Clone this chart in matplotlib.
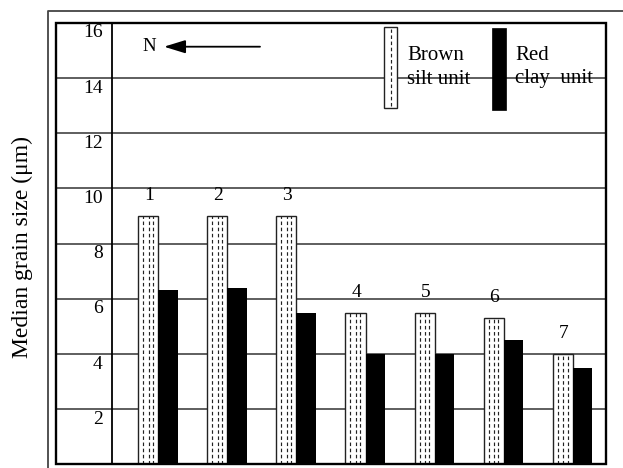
import matplotlib
matplotlib.use("Agg")
import matplotlib.pyplot as plt
import matplotlib.transforms as mtransforms
from matplotlib.lines import Line2D
from matplotlib.patches import Rectangle
import numpy as np

# ---- data ----
sites = ["1", "2", "3", "4", "5", "6", "7"]
brown_silt = [9.0, 9.0, 9.0, 5.5, 5.5, 5.3, 4.0]
red_clay = [6.3, 6.4, 5.5, 4.0, 4.0, 4.5, 3.5]
y_ticks = [2, 4, 6, 8, 10, 12, 14, 16]
y_label = "Median grain size (\u03bcm)"
legend_brown = ["Brown", "silt unit"]
legend_red = ["Red", "clay  unit"]

plt.rcParams['font.family'] = ['Liberation Serif', 'DejaVu Serif']

W, H = 623, 468
fig = plt.figure(figsize=(W / 100, H / 100), dpi=100)

def fx(px):
    return px / W

def fy(py):
    return 1 - py / H

ax_l, ax_r, ax_t, ax_b = 111.7, 606.0, 22.7, 464.3
ax = fig.add_axes([fx(ax_l), fy(ax_b), fx(ax_r) - fx(ax_l), fy(ax_t) - fy(ax_b)])
ax.set_xlim(0.325, 7.482)
ax.set_ylim(0, 16)
ax.set_xticks([])
ax.set_yticks([])
for s in ["top", "bottom", "right"]:
    ax.spines[s].set_visible(False)
ax.spines["left"].set_linewidth(1.3)
ax.spines["left"].set_color("black")

left_col = (55.7 - ax_l) / (ax_r - ax_l)
blend = mtransforms.blended_transform_factory(ax.transAxes, ax.transData)

# grid lines extending into the label column
for t in y_ticks[:-1]:
    ax.plot([left_col, 1.0], [t, t], transform=blend, color="#333333",
            lw=1.1, clip_on=False, zorder=1)
# tick labels
for t in y_ticks:
    ax.annotate(str(t), xy=(-0.018, t), xycoords=blend, xytext=(0, -1.2),
                textcoords="offset points", ha="right", va="top",
                fontsize=14, annotation_clip=False)

# inner box
ax.add_patch(Rectangle((left_col, 0), 1 - left_col, 1, transform=ax.transAxes,
                       fill=False, edgecolor="black", lw=1.7, clip_on=False,
                       zorder=5))

pos = np.arange(1, len(sites) + 1)
bw, rw = 0.29, 0.285
ax.bar(pos - bw, brown_silt, width=bw, align="edge", facecolor="white",
       edgecolor="#222222", lw=1.0, zorder=3)
for f in (0.25, 0.52, 0.74):
    ax.vlines(pos - bw + bw * f, 0, brown_silt, colors="#222222",
              linestyles=(0, (3.0, 2.2)), lw=0.85, zorder=4)
ax.bar(pos, red_clay, width=rw, align="edge", color="black", zorder=3)

for p, v, s in zip(pos, brown_silt, sites):
    ax.annotate(s, xy=(p - bw / 2, v), xytext=(0.5, 8.5), textcoords="offset points",
                ha="center", va="bottom", fontsize=14)

# north arrow
ax.annotate("", xy=(fx(164), fy(46.7)), xytext=(fx(260), fy(46.7)),
            xycoords="figure fraction", textcoords="figure fraction",
            arrowprops=dict(arrowstyle="-|>,head_length=1.3,head_width=0.4",
                            color="black", lw=1.3, shrinkA=0, shrinkB=0))
fig.text(fx(149), fy(46.7), "N", ha="center", va="center", fontsize=13.5)

# legend
fig.add_artist(Rectangle((fx(384.3), fy(107.7)), fx(397.3) - fx(384.3),
                         fy(26.7) - fy(107.7), transform=fig.transFigure,
                         facecolor="white", edgecolor="#222222", lw=1.0,
                         zorder=6))
fig.add_artist(Line2D([fx(390.8), fx(390.8)], [fy(106), fy(28.5)],
                      transform=fig.transFigure, color="#222222", lw=0.85,
                      linestyle=(0, (3.0, 2.2)), zorder=7))
fig.add_artist(Rectangle((fx(491.7), fy(110)), fx(506) - fx(491.7),
                         fy(28.3) - fy(110), transform=fig.transFigure,
                         facecolor="black", edgecolor="black", lw=0.5,
                         zorder=6))
fig.text(fx(407), fy(59.5), legend_brown[0], ha="left", va="baseline", fontsize=15)
fig.text(fx(407), fy(83.5), legend_brown[1], ha="left", va="baseline", fontsize=15)
fig.text(fx(515), fy(59.5), legend_red[0], ha="left", va="baseline", fontsize=15)
fig.text(fx(515), fy(83.5), legend_red[1], ha="left", va="baseline", fontsize=15)

# y label
fig.text(fx(22), fy(247), y_label, rotation=90, ha="center", va="center",
         fontsize=17)

# outer frame
fig.add_artist(Line2D([fx(48), fx(48), 1.0], [0.0, fy(11), fy(11)],
                      transform=fig.transFigure, color="#444444", lw=1.3))

fig.savefig("out.png", dpi=100)
